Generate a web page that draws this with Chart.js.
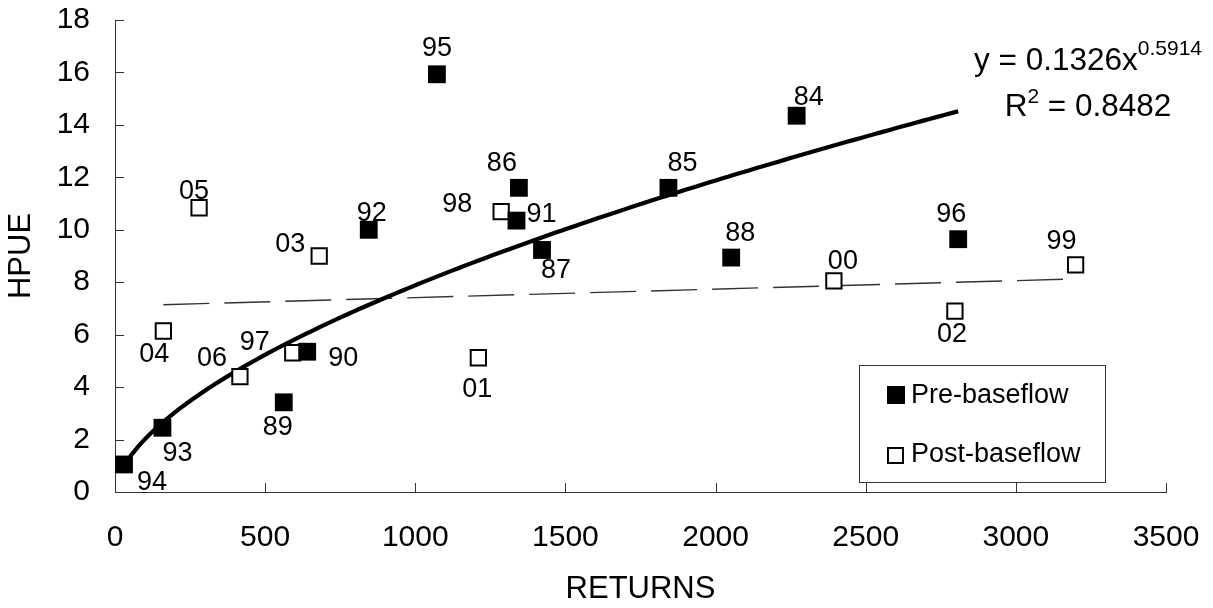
<!DOCTYPE html>
<html>
<head>
<meta charset="utf-8">
<script src="https://cdn.jsdelivr.net/npm/chart.js@4.4.1/dist/chart.umd.min.js"></script>
<style>
  html, body { margin: 0; padding: 0; background: #fff; }
  #wrap { width: 1213px; height: 608px; }
</style>
</head>
<body>
<div id="wrap"><canvas id="hpueChart" width="1213" height="608"></canvas></div>
<script>
// Pre-baseflow years (filled squares)
const preYears = ["94", "93", "89", "90", "92", "95", "86", "91", "87", "85", "88", "84", "96"];
const preReturns = [30, 158, 562, 640, 845, 1072, 1345, 1337, 1422, 1843, 2052, 2270, 2808];
const preHpue = [1.05, 2.45, 3.42, 5.35, 10.0, 15.93, 11.6, 10.35, 9.23, 11.6, 8.94, 14.35, 9.64];

// Post-baseflow years (open squares)
const postYears = ["05", "03", "04", "06", "97", "01", "98", "00", "02", "99"];
const postReturns = [280, 680, 161, 416, 592, 1210, 1286, 2394, 2797, 3199];
const postHpue = [10.84, 9.0, 6.14, 4.4, 5.31, 5.12, 10.69, 8.05, 6.9, 8.66];

const xTicks = [0, 500, 1000, 1500, 2000, 2500, 3000, 3500];
const yTicks = [0, 2, 4, 6, 8, 10, 12, 14, 16, 18];

// power trendline printed on the chart
const powerA = 0.1326;
const powerB = 0.5914;
const r2Text = "0.8482";

// where each year label sits relative to its marker (px)
const labelOffsets = {
  "95": [0, -26], "84": [12, -18], "86": [-17, -24], "98": [-44, -7], "91": [25, -6],
  "87": [14, 21], "85": [14, -24], "88": [9, -24], "92": [3, -16], "05": [-5, -16],
  "03": [-29, -11], "96": [-7, -25], "99": [-14, -23], "00": [9, -19], "02": [-3, 23],
  "01": [-1, 32], "04": [-9, 24], "06": [-28, -18], "97": [-38, -10], "90": [36, 7],
  "89": [-6, 25], "93": [15, 26], "94": [28, 18]
};

const toPoints = (xs, ys) => xs.map((x, i) => ({ x: x, y: ys[i] }));

// power curve over the pre-baseflow range
const pMin = Math.min(...preReturns), pMax = Math.max(...preReturns);
const powerCurve = [];
for (let i = 0; i <= 120; i++) {
  const x = pMin + (pMax - pMin) * i / 120;
  powerCurve.push({ x: x, y: powerA * Math.pow(x, powerB) });
}

// least squares line for post-baseflow
const n = postReturns.length;
const mx = postReturns.reduce((a, b) => a + b, 0) / n;
const my = postHpue.reduce((a, b) => a + b, 0) / n;
let sxy = 0, sxx = 0;
postReturns.forEach((x, i) => { sxy += (x - mx) * (postHpue[i] - my); sxx += (x - mx) * (x - mx); });
const slope = sxy / sxx, intercept = my - slope * mx;
const qMin = Math.min(...postReturns), qMax = Math.max(...postReturns);
const linearFit = [{ x: qMin, y: intercept + slope * qMin }, { x: qMax, y: intercept + slope * qMax }];

const FONT = "'Liberation Sans', Arial, sans-serif";

// inward tick marks
const innerTicks = {
  id: "innerTicks",
  afterDraw(chart) {
    const { ctx, chartArea, scales } = chart;
    ctx.save();
    ctx.strokeStyle = "#333";
    ctx.lineWidth = 1;
    ctx.beginPath();
    xTicks.forEach(v => {
      const px = Math.round(scales.x.getPixelForValue(v)) + 0.5;
      ctx.moveTo(px, chartArea.bottom);
      ctx.lineTo(px, chartArea.bottom - 9);
    });
    yTicks.forEach(v => {
      const py = Math.round(scales.y.getPixelForValue(v)) + 0.5;
      ctx.moveTo(chartArea.left, py);
      ctx.lineTo(chartArea.left + 9, py);
    });
    ctx.stroke();
    ctx.restore();
  }
};

// year labels next to the markers
const yearLabels = {
  id: "yearLabels",
  afterDatasetsDraw(chart) {
    const ctx = chart.ctx;
    ctx.save();
    ctx.font = "27px " + FONT;
    ctx.fillStyle = "#000";
    ctx.textAlign = "center";
    ctx.textBaseline = "middle";
    [[0, preYears], [1, postYears]].forEach(([di, names]) => {
      chart.getDatasetMeta(di).data.forEach((pt, i) => {
        const off = labelOffsets[names[i]] || [0, -24];
        ctx.fillText(names[i], pt.x + off[0], pt.y + off[1]);
      });
    });
    ctx.restore();
  }
};

// legend box and equation text
const boxAndEquation = {
  id: "boxAndEquation",
  afterDraw(chart) {
    const ctx = chart.ctx;
    ctx.save();
    // legend
    ctx.fillStyle = "#fff";
    ctx.fillRect(859, 365, 246, 118);
    ctx.strokeStyle = "#333";
    ctx.lineWidth = 1;
    ctx.strokeRect(859.5, 365.5, 246, 117);
    ctx.fillStyle = "#000";
    ctx.fillRect(887, 386, 18, 18);
    ctx.fillStyle = "#fff";
    ctx.fillRect(888, 448, 15, 15);
    ctx.strokeStyle = "#000";
    ctx.lineWidth = 2;
    ctx.strokeRect(888, 448, 15, 15);
    ctx.fillStyle = "#000";
    ctx.font = "27px " + FONT;
    ctx.textAlign = "left";
    ctx.textBaseline = "middle";
    ctx.fillText("Pre-baseflow", 911, 396);
    ctx.fillText("Post-baseflow", 911, 455);

    // equation
    ctx.textBaseline = "alphabetic";
    const big = "31.5px " + FONT, small = "21px " + FONT;
    const cx = 1088;
    const main1 = "y = " + powerA + "x", sup1 = String(powerB);
    ctx.font = big; const w1 = ctx.measureText(main1).width;
    ctx.font = small; const w2 = ctx.measureText(sup1).width;
    let x0 = cx - (w1 + w2) / 2;
    ctx.font = big; ctx.fillText(main1, x0, 70);
    ctx.font = small; ctx.fillText(sup1, x0 + w1, 55);

    const a = "R", b = "2", c = " = " + r2Text;
    ctx.font = big; const wa = ctx.measureText(a).width, wc = ctx.measureText(c).width;
    ctx.font = small; const wb = ctx.measureText(b).width;
    x0 = cx - (wa + wb + wc) / 2;
    ctx.font = big; ctx.fillText(a, x0, 116);
    ctx.font = small; ctx.fillText(b, x0 + wa, 103);
    ctx.font = big; ctx.fillText(c, x0 + wa + wb, 116);
    ctx.restore();
  }
};

new Chart(document.getElementById("hpueChart"), {
  type: "scatter",
  data: {
    datasets: [
      {
        label: "Pre-baseflow",
        data: toPoints(preReturns, preHpue),
        pointStyle: "rect",
        pointRadius: 12.6,
        backgroundColor: "#000",
        borderColor: "#000",
        borderWidth: 0,
      },
      {
        label: "Post-baseflow",
        data: toPoints(postReturns, postHpue),
        pointStyle: "rect",
        pointRadius: 10.8,
        backgroundColor: "#fff",
        borderColor: "#000",
        borderWidth: 2,
      },
      {
        label: "Power",
        data: powerCurve,
        showLine: true,
        pointRadius: 0,
        borderColor: "#000",
        borderWidth: 4.2,
        fill: false,
      },
      {
        label: "Linear",
        data: linearFit,
        showLine: true,
        pointRadius: 0,
        borderColor: "#333",
        borderWidth: 1.4,
        borderDash: [46, 15],
        fill: false,
      },
    ],
  },
  options: {
    responsive: false,
    animation: false,
    layout: { padding: { top: 20, right: 47, left: 0, bottom: 0 } },
    plugins: {
      legend: { display: false },
      tooltip: { enabled: false },
    },
    scales: {
      x: {
        type: "linear",
        min: 0,
        max: 3500,
        afterBuildTicks: s => { s.ticks = xTicks.map(v => ({ value: v })); },
        afterFit: s => { s.height = 116; s.paddingLeft = 0; s.paddingRight = 0; },
        grid: { display: false, drawTicks: false },
        border: { display: true, color: "#333", width: 1 },
        ticks: { color: "#000", font: { family: FONT, size: 30 }, padding: 28, maxRotation: 0, callback: v => String(v) },
        title: { display: true, text: "RETURNS", color: "#000", font: { family: FONT, size: 31 }, padding: { top: 0, bottom: 0 } },
      },
      y: {
        min: 0,
        max: 18,
        afterBuildTicks: s => { s.ticks = yTicks.map(v => ({ value: v })); },
        afterFit: s => { s.width = 115; s.paddingTop = 0; s.paddingBottom = 0; },
        grid: { display: false, drawTicks: false },
        border: { display: true, color: "#333", width: 1 },
        ticks: { color: "#000", font: { family: FONT, size: 30 }, padding: 25, callback: v => String(v) },
        title: { display: true, text: "HPUE", color: "#000", font: { family: FONT, size: 31 }, padding: { top: 3, bottom: 0 } },
      },
    },
  },
  plugins: [innerTicks, yearLabels, boxAndEquation],
});
</script>
</body>
</html>
